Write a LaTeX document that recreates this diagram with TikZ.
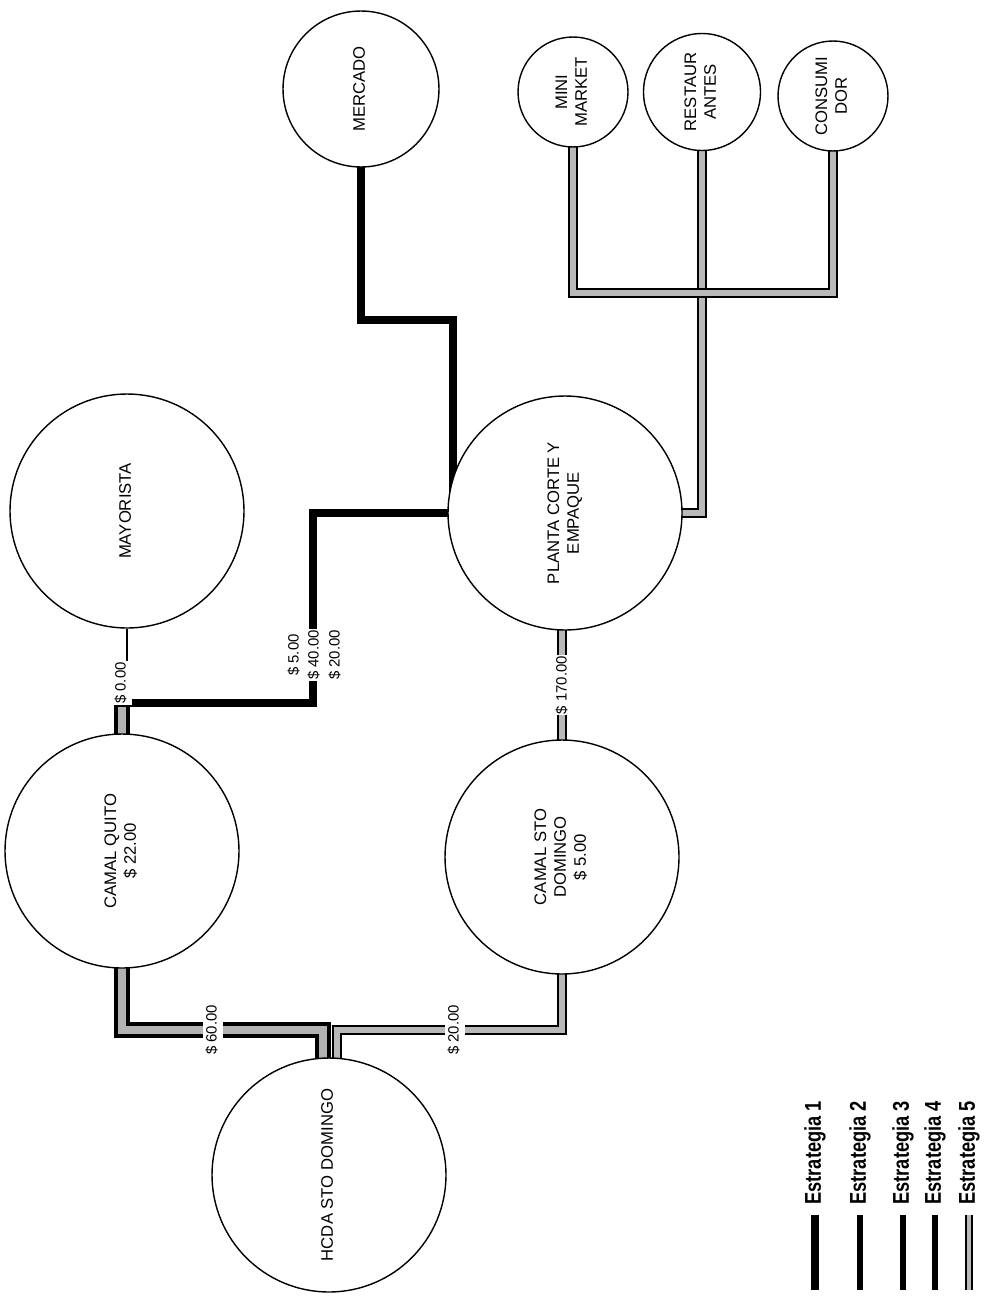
\documentclass[tikz,border=0pt]{standalone}
\usepackage{fontspec}
\setmainfont{Liberation Sans}
\newfontfamily\leyfont[FakeStretch=0.8]{Liberation Sans}
\usetikzlibrary{backgrounds,calc}
\newcommand{\giro}[1]{\rotatebox{90}{\begin{tabular}{@{}c@{}}#1\end{tabular}}}
\tikzset{
  nodo/.style={circle,draw=black,line width=0.8pt,fill=white,inner sep=0pt,
    font=\fontsize{9.5}{11.3}\selectfont},
  grande/.style={nodo,minimum size=4.68cm},
  mediano/.style={nodo,minimum size=3.12cm},
  chico/.style={nodo,minimum size=2.2cm},
  precio/.style={fill=white,inner sep=0.6pt,font=\fontsize{8.5}{10}\selectfont},
  ruta/.style={line join=miter,line cap=rect},
  negra/.style={ruta,draw=black,line width=5pt},
  gris/.style={ruta,draw=black,line width=1pt,double=gray!55,double distance=3.5pt},
  mixta/.style={ruta,draw=black,line width=2pt,double=gray!60,double distance=5pt},
  fina/.style={draw=black,line width=1pt},
  leyenda/.style={inner sep=0pt,font=\leyfont\bfseries\fontsize{13}{15}\selectfont},
  est1/.style={draw=black,line width=4pt},
  est2/.style={draw=black,line width=3.5pt},
  est3/.style={draw=black,line width=3.5pt},
  est4/.style={draw=black,line width=3.8pt},
  est5/.style={draw=black,line width=1pt,double=gray!55,double distance=2.2pt}
}

\begin{document}
\begin{tikzpicture}[x=0.02cm,y=-0.02cm]
  \useasboundingbox (0,0) rectangle (986,1315);

  % actores de la cadena
  \node[grande] (hcda) at (329,1175) {\giro{HCDA STO DOMINGO}};
  \node[grande] (cquito) at (122,851) {\giro{CAMAL QUITO\\\$ 22.00}};
  \node[grande] (csd) at (562,857) {\giro{CAMAL STO\\DOMINGO\\\$ 5.00}};
  \node[grande] (mayor) at (127,511) {\giro{MAYORISTA}};
  \node[grande] (planta) at (565,513) {\giro{PLANTA CORTE Y\\EMPAQUE}};
  \node[mediano] (mercado) at (361,89) {\giro{MERCADO}};
  \node[chico] (mini) at (573,92) {\giro{MINI\\MARKET}};
  \node[chico,minimum size=2.34cm] (rest) at (702,92) {\giro{RESTAUR\\ANTES}};
  \node[chico] (consu) at (833,96) {\giro{CONSUMI\\DOR}};

  \coordinate (m1) at (453,320);
  \coordinate (q1) at (313,703);
  \coordinate (h1) at (220,1030);
  \coordinate (h2) at (450,1030);
  \coordinate (r1) at (700,293);

  % rutas
  \begin{scope}[on background layer]
    \draw[negra] (mercado.south) |- (m1) -- (m1 |- planta.west);
    \draw[mixta] (cquito.north) -- (cquito.north |- q1);
    \draw[negra] (cquito.north |- q1) -- (q1) |- (planta.west);
    \draw[fina] (mayor.south) -- (mayor.south |- q1);
    \draw[mixta] (cquito.south) |- (h1) -| ($(hcda.north)+(-6,0)$);
    \draw[gris] (csd.south) |- (h2) -| ($(hcda.north)+(8,0)$);
    \draw[gris] (csd.north) -- (csd.north |- planta.south);
    \draw[gris] (planta.east) -| (rest.south);
    \draw[gris] (mini.south) |- (r1) -| (consu.south);
  \end{scope}

  % costos
  \node[precio] (p0) at (122,683) {\giro{\$ 0.00}};
  \node[precio] (p5) at (295,655) {\giro{\$ 5.00}};
  \node[precio] (p40) at (315,655) {\giro{\$ 40.00}};
  \node[precio] (p20b) at (336,655) {\giro{\$ 20.00}};
  \node[precio] (p170) at (563,685) {\giro{\$ 170.00}};
  \node[precio] (p60) at (213,1030) {\giro{\$ 60.00}};
  \node[precio] (p20a) at (455,1030) {\giro{\$ 20.00}};

  % leyenda
  \foreach \n/\xx in {1/815,2/860,3/903,4/935,5/969}{
    \coordinate (a\n) at (\xx,1290);
    \coordinate (b\n) at (\xx,1215);
    \node[leyenda,anchor=south] (e\n) at (\xx,1205) {\rotatebox{90}{Estrategia \n}};
    \draw[est\n] (a\n) -- (b\n);
  }
\end{tikzpicture}
\end{document}
